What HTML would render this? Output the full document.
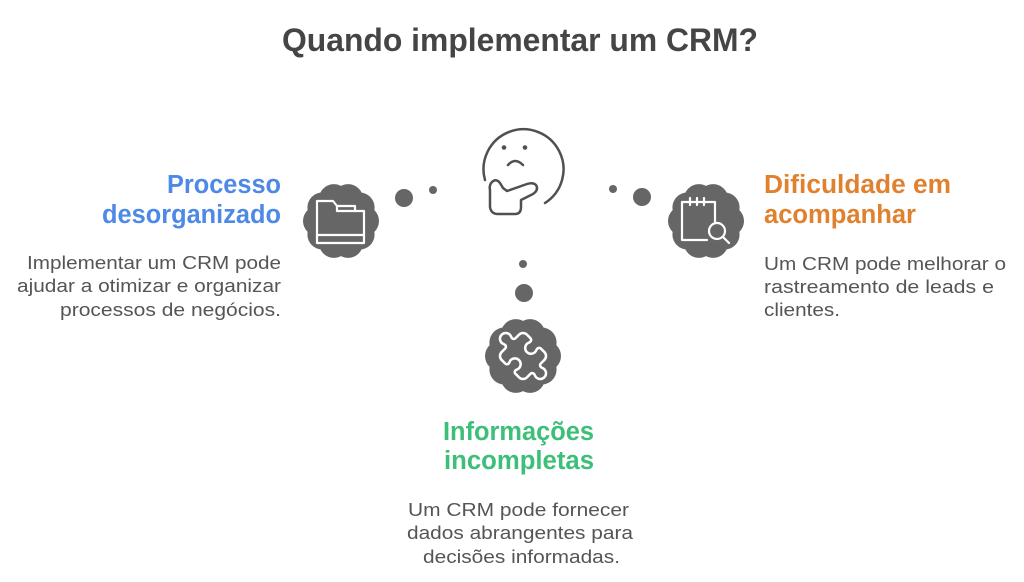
<!DOCTYPE html>
<html>
<head>
<meta charset="utf-8">
<style>
  html,body{margin:0;padding:0;background:#fff;}
  svg{display:block;}
  .t{font-family:"Liberation Sans",sans-serif;}
</style>
</head>
<body>
<svg width="1024" height="582" viewBox="0 0 1024 582" xmlns="http://www.w3.org/2000/svg">
  <rect width="1024" height="582" fill="#fff"/>

  <!-- Title -->
  <text class="t" x="282" y="51" font-size="32" font-weight="bold" fill="#454545" textLength="476" lengthAdjust="spacingAndGlyphs">Quando implementar um CRM?</text>

  <!-- Clouds -->
  <defs>
    <g id="cloud">
      <circle cx="0" cy="0" r="33"/>
      <circle cx="23" cy="0" r="15"/>
      <circle cx="18.6" cy="13.5" r="15"/>
      <circle cx="7.1" cy="21.9" r="15"/>
      <circle cx="-7.1" cy="21.9" r="15"/>
      <circle cx="-18.6" cy="13.5" r="15"/>
      <circle cx="-23" cy="0" r="15"/>
      <circle cx="-18.6" cy="-13.5" r="15"/>
      <circle cx="-7.1" cy="-21.9" r="15"/>
      <circle cx="7.1" cy="-21.9" r="15"/>
      <circle cx="18.6" cy="-13.5" r="15"/>
    </g>
  </defs>
  <g fill="#666">
    <use href="#cloud" x="341" y="221"/>
    <use href="#cloud" x="706" y="221"/>
    <use href="#cloud" x="523" y="356"/>
    <!-- dots -->
    <circle cx="404" cy="198" r="9"/>
    <circle cx="433" cy="190" r="4"/>
    <circle cx="613" cy="189" r="4"/>
    <circle cx="642" cy="197" r="9"/>
    <circle cx="523" cy="264" r="4"/>
    <circle cx="524" cy="293" r="9"/>
  </g>

  <!-- Folder icon -->
  <g fill="none" stroke="#fff" stroke-width="2.2" stroke-linejoin="round" stroke-linecap="round">
    <path d="M317,243 V201 H333 L337,206 H355 V211 H364 V243 Z"/>
    <path d="M337,206 V211 H355"/>
    <path d="M317,235 H364"/>
  </g>

  <!-- Doc/search icon -->
  <g fill="none" stroke="#fff" stroke-width="2.2" stroke-linejoin="round" stroke-linecap="round">
    <path d="M707,240 H682 V202 H715 V222"/>
    <path d="M690,198 V205 M697,198 V205 M704,198 V205"/>
    <circle cx="717" cy="231" r="8"/>
    <path d="M723,237 L729,243"/>
  </g>

  <!-- Puzzle icon -->
  <g transform="translate(550.6,328.4) scale(-2.3,2.3)" fill="none" stroke="#fff" stroke-width="1.1" stroke-linejoin="round">
    <path d="M19.439 7.85c-.049.322.059.648.289.878l1.568 1.568c.47.47.706 1.087.706 1.704s-.235 1.233-.706 1.704l-1.611 1.611a.98.98 0 0 1-.837.276c-.47-.07-.802-.48-.968-.925a2.501 2.501 0 1 0-3.214 3.214c.446.166.855.497.925.968a.979.979 0 0 1-.276.837l-1.61 1.61a2.404 2.404 0 0 1-1.705.707 2.402 2.402 0 0 1-1.704-.706l-1.568-1.568a1.026 1.026 0 0 0-.877-.29c-.493.074-.84.504-1.02.968a2.5 2.5 0 1 1-3.237-3.237c.464-.18.894-.527.967-1.02a1.026 1.026 0 0 0-.289-.877l-1.568-1.568A2.402 2.402 0 0 1 1.998 12c0-.617.236-1.234.706-1.704L4.23 8.770c.24-.24.581-.353.917-.303.515.077.877.528 1.073 1.010a2.5 2.5 0 1 0 3.259-3.259c-.482-.196-.933-.558-1.010-1.073-.05-.336.062-.676.303-.917l1.525-1.525A2.402 2.402 0 0 1 12 1.998c.617 0 1.234.236 1.704.706l1.568 1.568c.23.23.556.338.877.29.493-.074.84-.504 1.02-.968a2.5 2.5 0 1 1 3.237 3.237c-.464.18-.894.527-.967 1.02Z"/>
  </g>

  <!-- Thinking face -->
  <g fill="none" stroke="#505050" stroke-width="2.5" stroke-linecap="round" stroke-linejoin="round">
    <path d="M485,180 A40,40 0 1 1 545,203"/>
    <path d="M508,165 Q515,157 523,165"/>
    <path d="M503,188 L500,183 Q496,178 492,182 Q489,185 490,190 L490,207 Q491,214 498,214 L515,214 Q521,214 521,207 L521,200 L533,194 Q539,190 536,185 Q533,182 527,184 L507,191 Z"/>
  </g>
  <g fill="#505050">
    <circle cx="504" cy="147.5" r="2.3"/>
    <circle cx="525" cy="147.5" r="2.3"/>
  </g>

  <!-- Left block -->
  <g class="t" font-size="25.5" font-weight="bold" fill="#4f89e6">
    <text x="167" y="193" textLength="114" lengthAdjust="spacingAndGlyphs">Processo</text>
    <text x="102" y="223" textLength="179" lengthAdjust="spacingAndGlyphs">desorganizado</text>
  </g>
  <g class="t" font-size="18.5" fill="#555">
    <text x="27" y="269" textLength="254" lengthAdjust="spacingAndGlyphs">Implementar um CRM pode</text>
    <text x="17" y="292" textLength="264" lengthAdjust="spacingAndGlyphs">ajudar a otimizar e organizar</text>
    <text x="60" y="316" textLength="221" lengthAdjust="spacingAndGlyphs">processos de negócios.</text>
  </g>

  <!-- Right block -->
  <g class="t" font-size="25.5" font-weight="bold" fill="#e0812f">
    <text x="764" y="193" textLength="187" lengthAdjust="spacingAndGlyphs">Dificuldade em</text>
    <text x="764" y="223" textLength="152" lengthAdjust="spacingAndGlyphs">acompanhar</text>
  </g>
  <g class="t" font-size="18.5" fill="#555">
    <text x="764" y="270" textLength="242" lengthAdjust="spacingAndGlyphs">Um CRM pode melhorar o</text>
    <text x="764" y="293" textLength="230" lengthAdjust="spacingAndGlyphs">rastreamento de leads e</text>
    <text x="764" y="316" textLength="76" lengthAdjust="spacingAndGlyphs">clientes.</text>
  </g>

  <!-- Bottom block -->
  <g class="t" font-size="25.5" font-weight="bold" fill="#3dbf7a">
    <text x="443" y="440" textLength="151" lengthAdjust="spacingAndGlyphs">Informações</text>
    <text x="444" y="469" textLength="150" lengthAdjust="spacingAndGlyphs">incompletas</text>
  </g>
  <g class="t" font-size="18.5" fill="#555">
    <text x="408" y="516" textLength="221" lengthAdjust="spacingAndGlyphs">Um CRM pode fornecer</text>
    <text x="407" y="539" textLength="226" lengthAdjust="spacingAndGlyphs">dados abrangentes para</text>
    <text x="423" y="563" textLength="197" lengthAdjust="spacingAndGlyphs">decisões informadas.</text>
  </g>
</svg>
</body>
</html>
